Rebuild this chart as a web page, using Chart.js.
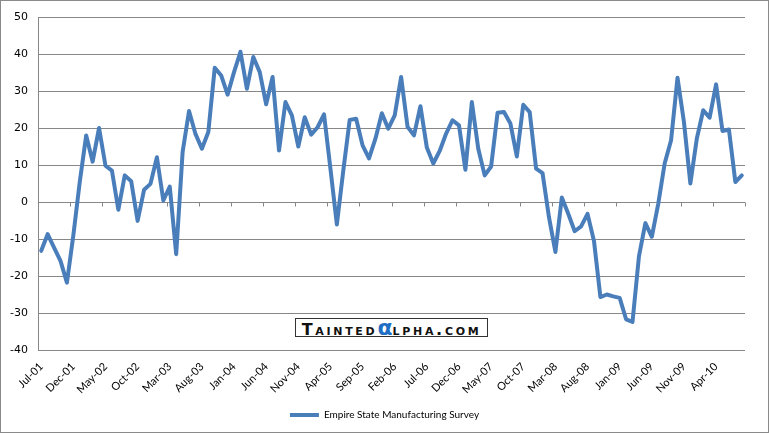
<!DOCTYPE html>
<html>
<head>
<meta charset="utf-8">
<script src="https://cdn.jsdelivr.net/npm/chart.js@4"></script>
<style>
  body { margin: 0; background: #fff; }
  #wrap { position: relative; width: 769px; height: 433px; }
  #mark {
    position: absolute; left: 295px; top: 318px; width: 191px; height: 17px;
    border: 1px solid #333; background: #fff;
    font-family: "DejaVu Sans", sans-serif; font-weight: bold; font-size: 16px;
    font-variant: small-caps; letter-spacing: 2.7px; line-height: 17px;
    text-align: center; color: #111; white-space: nowrap; overflow: hidden;
  }
  #mark .a { color: #1f6fc5; font-size: 22px; font-variant: normal; letter-spacing: 0; font-weight: bold; }
</style>
</head>
<body>
<div id="wrap">
  <canvas id="myChart" width="769" height="433"></canvas>
  <div id="mark">Tainted<span class="a">α</span>lpha.com</div>
</div>
<script>
// monthly readings, Jul-01 .. Aug-10
const startYear = 2001;
const startMonth = 6; // July
const monthNames = ["Jan", "Feb", "Mar", "Apr", "May", "Jun", "Jul", "Aug", "Sep", "Oct", "Nov", "Dec"];
const empireState = [
  -13.2, -8.7, -12.3, -15.9, -21.8, -9.0, 5.5, 18.0, 10.9, 20.0,
  9.8, 8.5, -2.1, 7.2, 5.6, -5.1, 3.3, 4.9, 12.1, 0.4,
  4.2, -14.1, 13.5, 24.6, 18.4, 14.4, 18.9, 36.3, 34.2, 29.0,
  35.1, 40.6, 30.6, 39.2, 35.1, 26.4, 33.8, 13.9, 27.0, 23.4,
  15.0, 22.9, 18.2, 20.2, 23.7, 9.0, -6.1, 8.5, 22.2, 22.5,
  15.3, 11.8, 17.1, 24.0, 19.8, 23.4, 33.8, 20.3, 18.0, 25.9,
  14.7, 10.4, 13.8, 18.5, 22.1, 20.7, 8.7, 27.0, 14.4, 7.2,
  9.6, 24.1, 24.3, 21.2, 12.3, 26.3, 24.3, 9.0, 7.8, -4.1,
  -13.5, 1.2, -3.2, -7.9, -6.6, -3.2, -10.5, -25.7, -25.0, -25.5,
  -25.9, -31.7, -32.4, -14.7, -5.7, -9.4, -0.5, 10.4, 16.7, 33.6,
  21.6, 5.0, 17.1, 24.8, 22.8, 31.8, 19.2, 19.6, 5.4, 7.2
];
const yTicks = { min: -40, max: 50, step: 10 };
const labelEvery = 5;

const labels = empireState.map((v, i) => {
  const m = startMonth + i;
  const yr = (startYear + Math.floor(m / 12)) % 100;
  return monthNames[m % 12] + "-" + String(yr).padStart(2, "0");
});

// small tick marks on the zero line, like the excel axis
const zeroTicks = {
  id: "zeroTicks",
  beforeDatasetsDraw(chart) {
    const x = chart.scales.x, y = chart.scales.y;
    const y0 = Math.round(y.getPixelForValue(0)) + 0.5;
    const half = (x.getPixelForValue(1) - x.getPixelForValue(0)) / 2;
    const ctx = chart.ctx;
    ctx.save();
    ctx.strokeStyle = "#878787";
    ctx.lineWidth = 1;
    ctx.beginPath();
    for (let i = 0; i <= labels.length; i += labelEvery) {
      const px = Math.round(x.getPixelForValue(i) - half) + 0.5;
      ctx.moveTo(px, y0);
      ctx.lineTo(px, y0 + 4);
    }
    ctx.stroke();
    ctx.restore();
  },
  afterDraw(chart) {
    const ctx = chart.ctx;
    ctx.save();
    ctx.strokeStyle = "#8a8a8a";
    ctx.lineWidth = 1;
    ctx.strokeRect(0.5, 0.5, chart.width - 1, chart.height - 1);
    ctx.restore();
  }
};

const data = {
  labels: labels,
  datasets: [
    {
      label: "Empire State Manufacturing Survey",
      data: empireState,
      borderColor: "#4a7ebb",
      backgroundColor: "#4a7ebb",
      borderWidth: 4,
      borderJoinStyle: "round",
      borderCapStyle: "round",
      pointRadius: 0,
      tension: 0,
    },
  ],
};

const config = {
  type: "line",
  data: data,
  plugins: [zeroTicks],
  options: {
    responsive: false,
    animation: false,
    layout: { padding: { top: 17, right: 0, bottom: 3, left: 0 } },
    plugins: {
      tooltip: { enabled: false },
      legend: {
        position: "bottom",
        labels: {
          usePointStyle: true,
          pointStyle: "line",
          pointStyleWidth: 29,
          color: "#000",
          font: { family: "Lato, 'Open Sans', sans-serif", size: 10 },
          padding: 10,
        },
      },
    },
    scales: {
      x: {
        offset: true,
        border: { display: false },
        grid: { display: false },
        ticks: {
          autoSkip: false,
          maxRotation: 45,
          minRotation: 45,
          padding: 2,
          color: "#000",
          font: { family: "Lato, 'Open Sans', sans-serif", size: 11 },
          callback: (v, i) => (i % labelEvery === 0 ? labels[i] : ""),
        },
        afterFit(scale) { scale.height = 50; },
      },
      y: {
        min: yTicks.min,
        max: yTicks.max,
        border: { display: true, color: "#878787", width: 1 },
        grid: { color: "#878787", lineWidth: 1, drawTicks: false },
        ticks: {
          stepSize: yTicks.step,
          padding: 10,
          color: "#000",
          font: { family: "'DejaVu Sans', Verdana, sans-serif", size: 11 },
        },
        afterFit(scale) { scale.width = 38; },
      },
      // empty right gutter so the legend stays centred on the canvas
      gutter: {
        position: "right",
        display: true,
        grid: { display: false },
        border: { display: false },
        ticks: { display: false },
        afterFit(scale) { scale.width = 24; },
      },
    },
  },
};

const ctx = document.getElementById("myChart").getContext("2d");
new Chart(ctx, config);
</script>
</body>
</html>
